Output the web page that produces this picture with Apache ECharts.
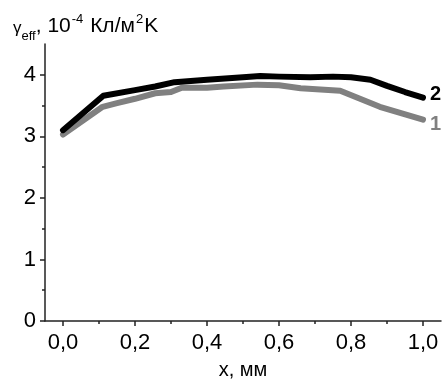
<!DOCTYPE html>
<html>
<head>
<meta charset="utf-8">
<style>
  html, body { margin: 0; padding: 0; background: #fff; }
  #main { width: 442px; height: 385px; }
</style>
<script src="https://cdn.jsdelivr.net/npm/echarts@6/dist/echarts.min.js"></script>
</head>
<body>
<div id="main"></div>
<script>
// curve 2 (black)
var xs2 = [0, 0.112, 0.2, 0.256, 0.31, 0.4, 0.5, 0.548, 0.6, 0.687, 0.75, 0.8, 0.854, 0.9, 0.95, 1.0];
var ys2 = [3.10, 3.66, 3.75, 3.81, 3.88, 3.92, 3.96, 3.98, 3.97, 3.96, 3.97, 3.96, 3.92, 3.82, 3.72, 3.63];
// curve 1 (grey)
var xs1 = [0, 0.11, 0.15, 0.2, 0.256, 0.3, 0.33, 0.4, 0.446, 0.54, 0.6, 0.66, 0.77, 0.88, 1.0];
var ys1 = [3.03, 3.48, 3.54, 3.61, 3.70, 3.72, 3.79, 3.79, 3.81, 3.84, 3.83, 3.78, 3.74, 3.48, 3.27];

var xTicks = [0, 0.2, 0.4, 0.6, 0.8, 1.0];
var xMinorTicks = [0.1, 0.3, 0.5, 0.7, 0.9];
var yTicks = [0, 1, 2, 3, 4];
var yMinorTicks = [0.5, 1.5, 2.5, 3.5];

function pairs(xs, ys) {
  return xs.map(function (x, i) { return [x, ys[i]]; });
}

var dom = document.getElementById('main');
var myChart = echarts.init(dom, null, { renderer: 'canvas' });

var font = 'Arial, "Liberation Sans", sans-serif';
var axisColor = '#222';

var option = {
  animation: false,
  title: {
    left: 8,
    top: 8,
    text: '{g|γ}{sub|eff}{n|, 10}{sup|-4}{n| Кл/м}{sup|2}{n|K}',
    textStyle: {
      fontWeight: 'normal',
      rich: {
        g: { fontFamily: font, fontSize: 17, fontWeight: 'normal', color: '#000', lineHeight: 24, verticalAlign: 'bottom' },
        sub: { fontFamily: font, fontSize: 13, fontWeight: 'normal', color: '#000', lineHeight: 13, verticalAlign: 'bottom', padding: [0, 0, -6, 0] },
        n: { fontFamily: font, fontSize: 21, fontWeight: 'normal', color: '#000', lineHeight: 24, verticalAlign: 'bottom' },
        sup: { fontFamily: font, fontSize: 13, fontWeight: 'normal', color: '#000', lineHeight: 13, verticalAlign: 'top', padding: [0, 1, 0, 1] }
      }
    }
  },
  grid: { left: 45, right: 1, top: 44, bottom: 50, containLabel: false },
  xAxis: [
    {
      type: 'value',
      min: -0.05,
      max: 1.05,
      name: 'x, мм',
      nameLocation: 'middle',
      nameGap: 39,
      nameTextStyle: { fontFamily: font, fontSize: 20, color: '#000' },
      axisLine: { onZero: false, lineStyle: { color: axisColor, width: 1.5 } },
      axisTick: { customValues: xTicks, length: 5, lineStyle: { color: axisColor, width: 1.5 } },
      axisLabel: {
        customValues: xTicks,
        margin: 11,
        fontFamily: font,
        fontSize: 22,
        color: '#000',
        formatter: function (v) { return v.toFixed(1).replace('.', ','); }
      },
      splitLine: { show: false }
    },
    {
      type: 'value',
      min: -0.05,
      max: 1.05,
      position: 'bottom',
      axisLine: { show: false, onZero: false },
      axisTick: { customValues: xMinorTicks, length: 3, lineStyle: { color: axisColor, width: 1.5 } },
      axisLabel: { show: false },
      splitLine: { show: false }
    }
  ],
  yAxis: [
    {
      type: 'value',
      min: 0,
      max: 4.5,
      axisLine: { show: true, onZero: false, lineStyle: { color: axisColor, width: 1.5 } },
      axisTick: { show: true, customValues: yTicks, length: 5, lineStyle: { color: axisColor, width: 1.5 } },
      axisLabel: {
        customValues: yTicks,
        margin: 9,
        fontFamily: font,
        fontSize: 22,
        color: '#000'
      },
      splitLine: { show: false }
    },
    {
      type: 'value',
      min: 0,
      max: 4.5,
      position: 'left',
      axisLine: { show: false, onZero: false },
      axisTick: { show: true, customValues: yMinorTicks, length: 3, lineStyle: { color: axisColor, width: 1.5 } },
      axisLabel: { show: false },
      splitLine: { show: false }
    }
  ],
  series: [
    {
      name: '1',
      type: 'line',
      data: pairs(xs1, ys1),
      showSymbol: false,
      lineStyle: { color: '#808080', width: 6, cap: 'round', join: 'round' },
      endLabel: {
        show: true,
        formatter: '1',
        distance: 7,
        offset: [0, 5],
        fontFamily: font,
        fontSize: 20,
        fontWeight: 'bold',
        color: '#808080'
      }
    },
    {
      name: '2',
      type: 'line',
      data: pairs(xs2, ys2),
      showSymbol: false,
      lineStyle: { color: '#000', width: 6, cap: 'round', join: 'round' },
      endLabel: {
        show: true,
        formatter: '2',
        distance: 7,
        offset: [0, -3],
        fontFamily: font,
        fontSize: 20,
        fontWeight: 'bold',
        color: '#000'
      }
    }
  ]
};

myChart.setOption(option);
window.addEventListener('resize', myChart.resize);
</script>
</body>
</html>
